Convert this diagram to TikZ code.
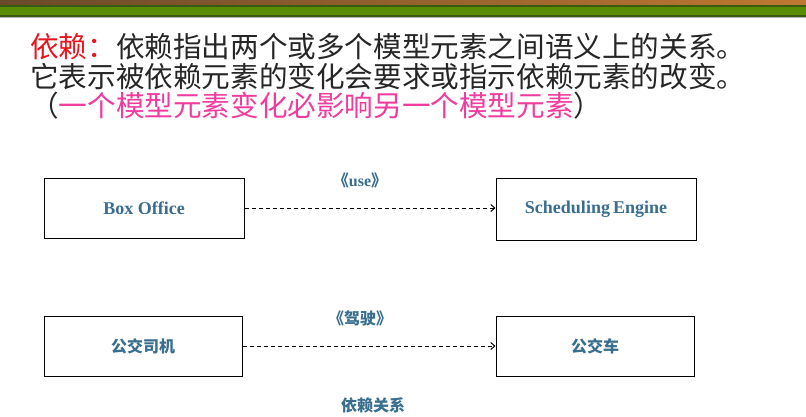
\documentclass[tikz,border=0pt]{standalone}
\usepackage{fontspec}
\setmainfont{Liberation Serif}
\newfontfamily\cjk{Noto Sans CJK SC}
\usetikzlibrary{arrows.meta}
\definecolor{lbl}{HTML}{3A6E8F}
\definecolor{pinkc}{HTML}{F03C9E}
\definecolor{redc}{HTML}{E8141E}
\definecolor{brownr}{HTML}{BE7832}
\definecolor{brownl}{HTML}{6A4A2A}
\definecolor{greenb}{HTML}{5A8C00}
\definecolor{greend}{HTML}{3A5A10}
\tikzset{
  box/.style={draw,line width=1pt,minimum width=200pt,minimum height=60pt,inner sep=0pt,text=lbl,font=\bfseries\fontsize{18}{20}\selectfont},
  dep/.style={dash pattern=on 4pt off 3pt,line width=1pt,-{Straight Barb[length=4pt,width=7pt]}},
  stereo/.style={text=lbl,font=\bfseries\fontsize{16}{18}\selectfont},
  cjkbold/.style={font=\cjk\bfseries\fontsize{16}{18}\selectfont},
  big/.style={anchor=west,inner sep=0pt,font=\cjk\fontsize{28.6}{30}\selectfont,text=black!85}
}
\begin{document}
\begin{tikzpicture}[x=1pt,y=-1pt]
\useasboundingbox (0,0) rectangle (806,416);
\fill[white] (0,0) rectangle (806,416);
\shade[left color=brownl,right color=brownr] (0,0) rectangle (806,5);
\fill[greend] (0,5) rectangle (806,7);
\fill[greenb] (0,7) rectangle (806,15);
\fill[greend] (0,15) rectangle (806,16.5);
\fill[gray!60] (0,16.5) rectangle (806,18);
\node[big] (l1) at (30,47) {\textcolor{redc}{依赖：}依赖指出两个或多个模型元素之间语义上的关系。};
\node[big] (l2) at (30,77) {它表示被依赖元素的变化会要求或指示依赖元素的改变。};
\node[big] (l3) at (30,106) {（\textcolor{pinkc}{一个模型元素变化必影响另一个模型元素}）};
\node[box] (bo) at (144,208) {Box Office};
\node[box,minimum height=62pt] (se) at (596,209) {Scheduling\,Engine};
\node[box,minimum width=198pt,cjkbold] (dr) at (143,346) {公交司机};
\node[box,minimum width=198pt,cjkbold] (bus) at (595,346) {公交车};
\draw[dep] (bo.east) -- (se.west |- bo.east);
\draw[dep] (dr.east) -- (bus.west |- dr.east);
\node[stereo] (s1) at (360,180) {{\cjk\bfseries 《}use{\cjk\bfseries 》}};
\node[stereo,cjkbold] (s2) at (360,318) {《驾驶》};
\node[stereo,cjkbold] (cap) at (373,405) {依赖关系};
\end{tikzpicture}
\end{document}
